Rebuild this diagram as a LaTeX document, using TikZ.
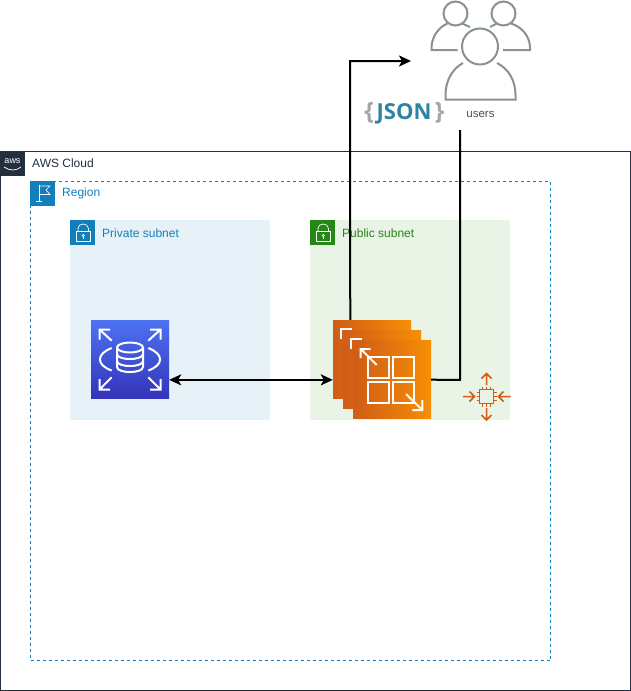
\documentclass[tikz,border=0pt]{standalone}
\usepackage{fontspec}
\setmainfont{Liberation Sans}
\newfontfamily\jsonfont{Open Sans}
\usetikzlibrary{arrows.meta}
\definecolor{awsdark}{HTML}{232F3E}
\definecolor{awsblue}{HTML}{147EBA}
\definecolor{awsgreen}{HTML}{248814}
\definecolor{privfill}{HTML}{E6F2F8}
\definecolor{pubfill}{HTML}{E9F3E6}
\definecolor{orangeA}{HTML}{D05C17}
\definecolor{orangeB}{HTML}{F78E04}
\definecolor{blueA}{HTML}{4D72F3}
\definecolor{blueB}{HTML}{3334B9}
\definecolor{usergray}{HTML}{879196}
\definecolor{jsonteal}{HTML}{2A84A2}
\tikzset{
  subnetbox/.style={minimum size=200pt,inner sep=0pt,anchor=north west},
  iconbox/.style={minimum size=25pt,inner sep=0pt,anchor=north west},
  ec2box/.style={minimum size=78pt,inner sep=0pt,left color=orangeA,right color=orangeB},
  rdsbox/.style={minimum size=78pt,inner sep=0pt,top color=blueA,bottom color=blueB},
  whiteline/.style={draw=white,line width=2pt},
  flow/.style={draw=black,line width=2pt,-{Stealth[length=12pt,width=11pt,inset=3pt]}},
  boxlabel/.style={anchor=west,inner sep=0pt,font=\fontsize{12}{14}\selectfont},
  pics/lockicon/.style={code={
    \draw[draw=white,line width=0.7pt] (6,11) rectangle (20.5,21.5);
    \draw[draw=white,line width=0.7pt] (8,11) -- (8,8.5) .. controls (8,2.5) and (18.4,2.5) .. (18.4,8.5) -- (18.4,11);
    \draw[draw=white,line width=0.6pt] (13.2,15.5) circle (1.2pt);
    \draw[draw=white,line width=0.6pt] (13.2,16.7) -- (13.2,18.5);
  }}
}
\begin{document}
\begin{tikzpicture}[x=1pt,y=-1pt]
  \useasboundingbox (0,0) rectangle (631,691);
  % cloud and region
  \node[draw=awsdark,line width=1pt,minimum width=630pt,minimum height=539pt,inner sep=0pt,outer sep=0pt,anchor=north west] (cloud) at (0,151) {};
  \node[draw=awsblue,line width=1pt,dashed,minimum width=520pt,minimum height=479pt,inner sep=0pt,anchor=north west] (region) at (30,181) {};
  \node[subnetbox,fill=privfill] (privsub) at (70,220) {};
  \node[subnetbox,fill=pubfill] (pubsub) at (310,220) {};
  % header icons
  \node[iconbox,fill=awsdark] (awslogo) at (0,151) {};
  \node[text=white,inner sep=0pt,font=\fontsize{9}{9}\selectfont] (awstext) at (12.5,161.5) {aws};
  \draw[white,line width=0.7pt] (4,167) .. controls (10,171) and (16,171) .. (21,167);
  \node[iconbox,fill=awsblue] (regionicon) at (30,181) {};
  \draw[white,line width=0.7pt] (39,185) -- (39,201) (36,201.5) -- (42,201.5);
  \draw[white,line width=0.7pt] (39,186) -- (50,186) -- (46,190) -- (50,194.5) -- (39,194.5);
  \node[iconbox,fill=awsblue] (privicon) at (70,220) {};
  \pic at (70,220) {lockicon};
  \node[iconbox,fill=awsgreen] (pubicon) at (310,220) {};
  \pic at (310,220) {lockicon};
  \node[boxlabel,text=awsdark] (cloudlabel) at (32,163.5) {AWS Cloud};
  \node[boxlabel,text=awsblue] (regionlabel) at (62,193.5) {Region};
  \node[boxlabel,text=awsblue] (privlabel) at (102,233.5) {Private subnet};
  \node[boxlabel,text=awsgreen] (publabel) at (342,233.5) {Public subnet};
  % database
  \node[rdsbox] (rds) at (130,359) {};
  \draw[whiteline] (130,347.5) ellipse (13pt and 5pt);
  \draw[whiteline] (117,347.5) -- (117,367) .. controls (117,373.7) and (143,373.7) .. (143,367) -- (143,347.5);
  \draw[whiteline] (117,354) .. controls (117,360.7) and (143,360.7) .. (143,354);
  \draw[whiteline] (117,361) .. controls (117,367.7) and (143,367.7) .. (143,361);
  \draw[whiteline] (111.7,348) .. controls (96,354) and (96,365) .. (111.7,370.5);
  \draw[whiteline] (148.3,348) .. controls (164,354) and (164,365) .. (148.3,370.5);
  \draw[whiteline] (111.7,340.7) -- (99.5,329.5) (99.5,339.5) -- (99.5,329.5) -- (110,329.5);
  \draw[whiteline] (148.3,340.7) -- (160.5,329.5) (160.5,339.5) -- (160.5,329.5) -- (150,329.5);
  \draw[whiteline] (111.7,377.3) -- (99.5,389.5) (99.5,379) -- (99.5,389.5) -- (110,389.5);
  \draw[whiteline] (148.3,377.3) -- (160.5,389.5) (160.5,379) -- (160.5,389.5) -- (150,389.5);
  % instances
  \node[ec2box] (ec2a) at (372,359) {};
  \draw[whiteline] (340.7,339) -- (340.7,329) -- (351.7,329);
  \node[ec2box] (ec2b) at (382,369) {};
  \draw[whiteline] (350.7,349) -- (350.7,339) -- (361.7,339);
  \node[ec2box] (ec2c) at (392,379) {};
  \draw[whiteline] (368.3,356.7) rectangle (389.3,377.7);
  \draw[whiteline] (393.3,356.7) rectangle (414.3,377.7);
  \draw[whiteline] (368.3,381.7) rectangle (389.3,402.7);
  \draw[whiteline] (393.3,381.7) rectangle (414.3,402.7);
  \draw[whiteline] (376.7,365) -- (360.7,349) (360.7,358) -- (360.7,349) -- (370.7,349);
  \draw[whiteline] (406,394) -- (422.3,410) (422.3,400) -- (422.3,410) -- (412.3,410);
  % scaling chip
  \foreach \d in {-4,0,4} {
    \draw[orangeA,line width=1pt] (476.5,396.5+\d) -- (496.5,396.5+\d);
    \draw[orangeA,line width=1pt] (486.5+\d,386.5) -- (486.5+\d,406.5);
  }
  \node[draw=orangeA,fill=pubfill,line width=1.5pt,minimum size=14pt,inner sep=0pt] (chip) at (486.5,396.5) {};
  \draw[orangeA,line width=1.5pt] (463,396.5) -- (474,396.5) (469.5,391.5) -- (474.5,396.5) -- (469.5,401.5);
  \draw[orangeA,line width=1.5pt] (510.5,396.5) -- (499,396.5) (503.5,391.5) -- (498.5,396.5) -- (503.5,401.5);
  \draw[orangeA,line width=1.5pt] (486.5,373.5) -- (486.5,385) (481.5,378.5) -- (486.5,373.5) -- (491.5,378.5);
  \draw[orangeA,line width=1.5pt] (486.5,420) -- (486.5,408) (481.5,415) -- (486.5,420) -- (491.5,415);
  % users
  \draw[usergray,line width=2pt] (455.5,13.5) circle (12pt);
  \draw[usergray,line width=2pt] (503.5,13.5) circle (12pt);
  \draw[usergray,line width=2pt] (457.5,50) -- (431.5,50) -- (431.5,47) .. controls (432,36) and (439,27) .. (447.5,23.5);
  \draw[usergray,line width=2pt] (462,23.5) -- (470,27);
  \draw[usergray,line width=2pt] (503,50) -- (530,50) -- (530,47) .. controls (529.5,36) and (522,27) .. (511,23.5);
  \draw[usergray,line width=2pt] (497,23.5) -- (490,27);
  \draw[usergray,line width=2pt] (480,46.5) circle (18pt);
  \draw[usergray,line width=2pt] (463,63) .. controls (452,69) and (445.5,81) .. (445.5,95) -- (445.5,99.5) -- (515.5,99.5) -- (515.5,95) .. controls (515.5,81) and (509,69) .. (497,63);
  \node[inner sep=0pt,text=black!70,font=\fontsize{11.5}{13}\selectfont] (users) at (480.5,114) {users};
  % json mark
  \node[inner sep=0pt,text=jsonteal,font=\jsonfont\bfseries\fontsize{22}{24}\selectfont] (json) at (404,113.5) {JSON};
  \node[inner sep=0pt,text=black!35,font=\jsonfont\bfseries\fontsize{24}{26}\selectfont] (bracea) at (369,113) {\{};
  \node[inner sep=0pt,text=black!35,font=\jsonfont\bfseries\fontsize{24}{26}\selectfont] (braceb) at (439.5,113) {\}};
  % connectors
  \coordinate (usersin) at (411,61);
  \coordinate (usersout) at (460,130);
  \draw[flow] (ec2a.119.4) -- (350,61) -- (usersin);
  \draw[draw=black,line width=2pt,line join=round] (usersout) -- (460,380) -- (ec2c.-1.5);
  \draw[flow,{Stealth[length=12pt,width=11pt,inset=3pt]}-{Stealth[length=12pt,width=11pt,inset=3pt]}] (rds.-28.3) -- (ec2a.208.3);
\end{tikzpicture}
\end{document}
